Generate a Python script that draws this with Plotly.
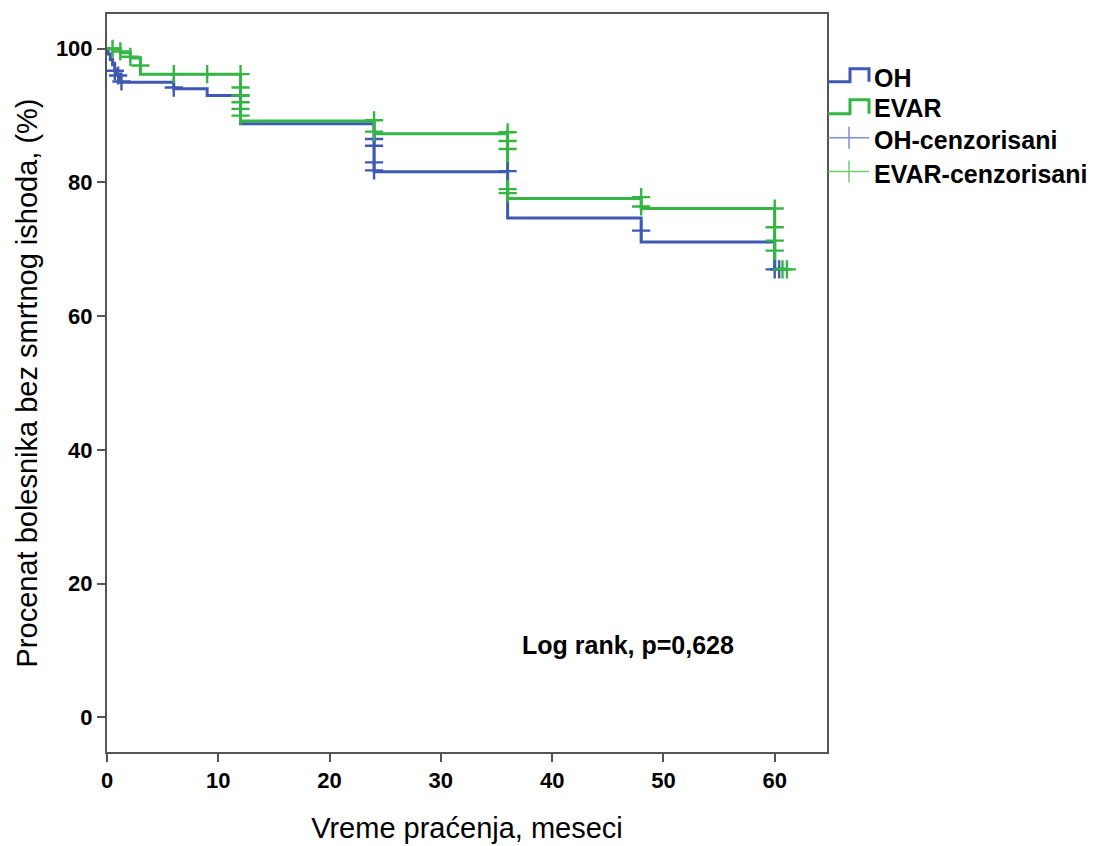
import plotly.graph_objects as go

# ---------------- data ----------------
oh_time = [0, 0.1, 0.3, 0.5, 0.7, 0.9, 1.2, 6, 9, 12, 24, 36, 48, 60, 61]
oh_surv = [100, 99.2, 98.4, 97.6, 96.9, 96.2, 95.0, 94.0, 93.0, 88.8, 81.6, 74.7, 71.1, 67.0, 67.0]

evar_time = [0, 1.2, 2.1, 3.0, 12, 24, 36, 48, 60, 61.1]
evar_surv = [100, 99.4, 98.6, 96.2, 89.2, 87.3, 77.6, 76.1, 67.0, 67.0]

oh_cens_time = [0.7, 1.0, 1.3, 6, 12, 24, 24, 24, 24, 36, 48, 60, 60.4]
oh_cens_surv = [96.7, 96.0, 95.1, 94.2, 93.0, 86.5, 85.5, 83.0, 81.8, 81.7, 72.8, 67.0, 67.0]

evar_cens_time = [0.5, 1.2, 2.1, 3.0, 6, 9, 12, 12, 12, 12, 12, 12,
                  24, 24, 36, 36, 36, 36, 36, 48, 48, 60, 60, 60, 60, 60.7, 61.1]
evar_cens_surv = [100, 99.6, 98.8, 97.5, 96.2, 96.2, 96.2, 94.2, 93.0, 92.0, 91.0, 90.0,
                  89.3, 87.6, 87.5, 86.2, 85.0, 79.0, 78.4, 77.8, 76.4, 76.1, 73.3, 71.3, 69.8, 67.0, 67.0]

x_ticks = [0, 10, 20, 30, 40, 50, 60]
y_ticks = [0, 20, 40, 60, 80, 100]

legend_labels = ["OH", "EVAR", "OH-cenzorisani", "EVAR-cenzorisani"]
annotation_text = "Log rank, p=0,628"
x_title = "Vreme praćenja, meseci"
y_title = "Procenat bolesnika bez smrtnog ishoda, (%)"

# ---------------- style ----------------
BLUE = "#3E59B3"
GREEN = "#34B544"
BLUE_L = "#8090D0"
GREEN_L = "#70CC78"
FONT = "Liberation Sans, Arial, sans-serif"
AX = "#555555"

OFF = 8  # page body margin
W, H = 1098 - OFF, 846 - OFF
L, R, T, B = 107 - OFF, 827 - OFF, 12 - OFF, 752 - OFF


def px(x):
    return (x - OFF - L) / (R - L)


def py(y):
    return (B - (y - OFF)) / (B - T)


fig = go.Figure()
fig.add_trace(go.Scatter(x=oh_time, y=oh_surv, mode="lines", line=dict(color=BLUE, width=3, shape="hv"),
                         name=legend_labels[0], showlegend=False))
fig.add_trace(go.Scatter(x=evar_time, y=evar_surv, mode="lines", line=dict(color=GREEN, width=3, shape="hv"),
                         name=legend_labels[1], showlegend=False))
fig.add_trace(go.Scatter(x=oh_cens_time, y=oh_cens_surv, mode="markers",
                         marker=dict(symbol="cross-thin", size=13, line=dict(color=BLUE, width=2.4)),
                         name=legend_labels[2], showlegend=False))
fig.add_trace(go.Scatter(x=evar_cens_time, y=evar_cens_surv, mode="markers",
                         marker=dict(symbol="cross-thin", size=13, line=dict(color=GREEN, width=2.4)),
                         name=legend_labels[3], showlegend=False))

# ---------------- custom legend ----------------
shapes = []
annots = []
LEGF = dict(family=FONT, size=25, color="black", weight="bold")
leg_rows = [(80, 67, BLUE, 76), (112, 98, GREEN, 106)]
for (ylow, yhigh, col, ytxt), lab in zip(leg_rows, legend_labels[:2]):
    path = (f"M {px(828)} {py(ylow)} L {px(850)} {py(ylow)} L {px(850)} {py(yhigh)} "
            f"L {px(869)} {py(yhigh)} L {px(869)} {py(ylow)}")
    shapes.append(dict(type="path", xref="paper", yref="paper", path=path,
                       line=dict(color=col, width=3)))
    annots.append(dict(x=px(872), y=py(ytxt), xref="paper", yref="paper", text=lab, showarrow=False,
                       xanchor="left", yanchor="middle", font=LEGF))
cens_rows = [(136, BLUE_L, 138), (170, GREEN_L, 172)]
for (yl, col, ytxt), lab in zip(cens_rows, legend_labels[2:]):
    shapes.append(dict(type="line", xref="paper", yref="paper", x0=px(828), x1=px(869), y0=py(yl), y1=py(yl),
                       line=dict(color=col, width=1.5)))
    shapes.append(dict(type="line", xref="paper", yref="paper", x0=px(849), x1=px(849), y0=py(yl - 11), y1=py(yl + 11),
                       line=dict(color=col, width=1.5)))
    annots.append(dict(x=px(872), y=py(ytxt), xref="paper", yref="paper", text=lab, showarrow=False,
                       xanchor="left", yanchor="middle", font=LEGF))

annots.append(dict(x=px(628), y=py(645), xref="paper", yref="paper", text=annotation_text, showarrow=False,
                   xanchor="center", yanchor="middle", font=dict(family=FONT, size=25, color="black", weight="bold")))

fig.update_layout(
    width=W, height=H,
    margin=dict(l=L, r=W - R, t=T, b=H - B, pad=0),
    paper_bgcolor="white", plot_bgcolor="white",
    shapes=shapes, annotations=annots,
    showlegend=False,
    font=dict(family=FONT, color="black"),
)
fig.update_xaxes(range=[0, 64.7], tickvals=x_ticks, ticktext=[str(v) for v in x_ticks],
                 showgrid=False, zeroline=False, showline=True, linecolor=AX, linewidth=2, mirror=True,
                 ticks="outside", ticklen=8, tickwidth=2, tickcolor=AX,
                 tickfont=dict(family=FONT, size=22, color="black", weight="bold"),
                 title=dict(text=x_title, font=dict(family=FONT, size=29, color="black"), standoff=25))
fig.update_yaxes(range=[-5.2, 105.2], tickvals=y_ticks, ticktext=[str(v) for v in y_ticks],
                 showgrid=False, zeroline=False, showline=True, linecolor=AX, linewidth=2, mirror=True,
                 ticks="outside", ticklen=8, tickwidth=2, tickcolor=AX,
                 tickfont=dict(family=FONT, size=22, color="black", weight="bold"),
                 title=dict(text=y_title, font=dict(family=FONT, size=29, color="black"), standoff=10))

fig.write_html("out.html")
